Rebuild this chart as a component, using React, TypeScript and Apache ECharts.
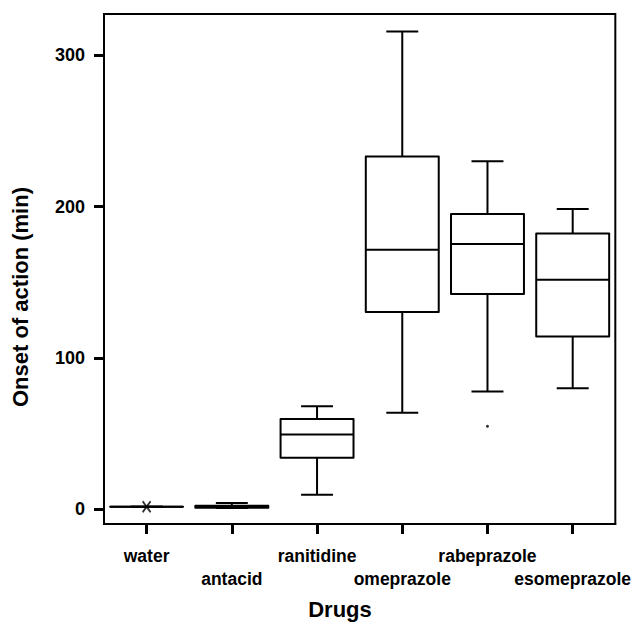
import React, { useEffect, useRef } from "react";
import * as echarts from "echarts";

const categories = ["water", "antacid", "ranitidine", "omeprazole", "rabeprazole", "esomeprazole"];
const whiskerLow = [1.8, 1.0, 9.7, 63.8, 77.9, 80.0];
const quartile1 = [1.8, 1.2, 34.1, 130.4, 142.3, 114.3];
const medians = [1.8, 2.0, 49.5, 171.5, 175.3, 151.7];
const quartile3 = [1.8, 2.5, 59.8, 233.1, 195.1, 182.3];
const whiskerHigh = [1.8, 4.2, 68.2, 315.6, 230.0, 198.4];
const outlierCategory = [0, 4];
const outlierValues = [1.8, 55.0];
const outlierShapes = ["x", "dot"];
const yTicks = [0, 100, 200, 300];

const FONT = "Liberation Sans, Arial, sans-serif";

export default function App() {
  const ref = useRef<HTMLDivElement>(null);
  useEffect(() => {
    document.body.style.margin = "0";
    if (!ref.current) return;
    const chart = echarts.init(ref.current, null, { renderer: "svg" });
    const boxData = categories.map((_, i) => [
      i,
      whiskerLow[i],
      quartile1[i],
      medians[i],
      quartile3[i],
      whiskerHigh[i],
    ]);
    const outlierData = outlierCategory.map((c, i) => ({
      value: [c, outlierValues[i]],
      symbol: outlierShapes[i] === "x" ? "path://M0,0L8,11M8,0L0,11" : "circle",
      symbolSize: outlierShapes[i] === "x" ? [8, 11] : 3,
      itemStyle:
        outlierShapes[i] === "x"
          ? { color: "none", borderColor: "#000", borderWidth: 2 }
          : { color: "#000", borderWidth: 0 },
    }));
    const stroke = { stroke: "#000", lineWidth: 2, fill: "none", lineJoin: "round" };
    chart.setOption({
      animation: false,
      backgroundColor: "#fff",
      grid: {
        left: 104,
        right: 18,
        top: 14,
        bottom: 100,
        show: true,
        borderColor: "#000",
        borderWidth: 2,
        backgroundColor: "transparent",
      },
      xAxis: {
        type: "category",
        data: categories,
        boundaryGap: true,
        axisLine: { show: true, onZero: false, lineStyle: { color: "#000", width: 2 } },
        axisTick: { show: true, alignWithLabel: true, length: 10, lineStyle: { color: "#000", width: 3 } },
        axisLabel: {
          interval: 0,
          margin: 20,
          color: "#000",
          fontFamily: FONT,
          fontWeight: "bold",
          fontSize: 17.5,
          lineHeight: 23,
          verticalAlign: "top",
          formatter: (v: string, i: number) => (i % 2 === 1 ? "\n" + v : v),
        },
        splitLine: { show: false },
      },
      yAxis: {
        type: "value",
        min: -9.6,
        max: 327.2,
        axisLine: { show: true, lineStyle: { color: "#000", width: 2 } },
        axisTick: {
          show: true,
          length: 10,
          customValues: yTicks,
          lineStyle: { color: "#000", width: 3 },
        },
        axisLabel: {
          customValues: yTicks,
          margin: 19,
          color: "#000",
          fontFamily: FONT,
          fontWeight: "bold",
          fontSize: 18,
        },
        splitLine: { show: false },
      },
      graphic: [
        {
          type: "text",
          x: 20,
          y: 297,
          rotation: Math.PI / 2,
          style: {
            text: "Onset of action (min)",
            fill: "#000",
            font: "bold 22px " + FONT,
            textAlign: "center",
            textVerticalAlign: "middle",
          },
        },
        {
          type: "text",
          x: 340,
          y: 609,
          style: {
            text: "Drugs",
            fill: "#000",
            font: "bold 22px " + FONT,
            textAlign: "center",
            textVerticalAlign: "middle",
          },
        },
      ],
      series: [
        {
          type: "custom",
          data: boxData,
          encode: { x: 0, y: [1, 2, 3, 4, 5] },
          renderItem: (params: any, api: any) => {
            const idx = api.value(0);
            const band = api.size([1, 0])[0];
            const bw = band * 0.856;
            const cw = band * 0.375;
            const pLo = api.coord([idx, api.value(1)]);
            const pQ1 = api.coord([idx, api.value(2)]);
            const pMed = api.coord([idx, api.value(3)]);
            const pQ3 = api.coord([idx, api.value(4)]);
            const pHi = api.coord([idx, api.value(5)]);
            const cx = pMed[0];
            return {
              type: "group",
              children: [
                { type: "line", shape: { x1: cx, y1: pQ3[1], x2: cx, y2: pHi[1] }, style: stroke },
                { type: "line", shape: { x1: cx, y1: pQ1[1], x2: cx, y2: pLo[1] }, style: stroke },
                { type: "line", shape: { x1: cx - cw / 2, y1: pHi[1], x2: cx + cw / 2, y2: pHi[1] }, style: stroke },
                { type: "line", shape: { x1: cx - cw / 2, y1: pLo[1], x2: cx + cw / 2, y2: pLo[1] }, style: stroke },
                {
                  type: "rect",
                  shape: { x: cx - bw / 2, y: pQ3[1], width: bw, height: pQ1[1] - pQ3[1] },
                  style: { ...stroke, fill: "#fff" },
                },
                { type: "line", shape: { x1: cx - bw / 2, y1: pMed[1], x2: cx + bw / 2, y2: pMed[1] }, style: stroke },
              ],
            };
          },
          z: 2,
        },
        {
          type: "scatter",
          data: outlierData,
          z: 3,
        },
      ],
    });
    return () => chart.dispose();
  }, []);
  return <div ref={ref} style={{ width: 634, height: 624 }} />;
}
